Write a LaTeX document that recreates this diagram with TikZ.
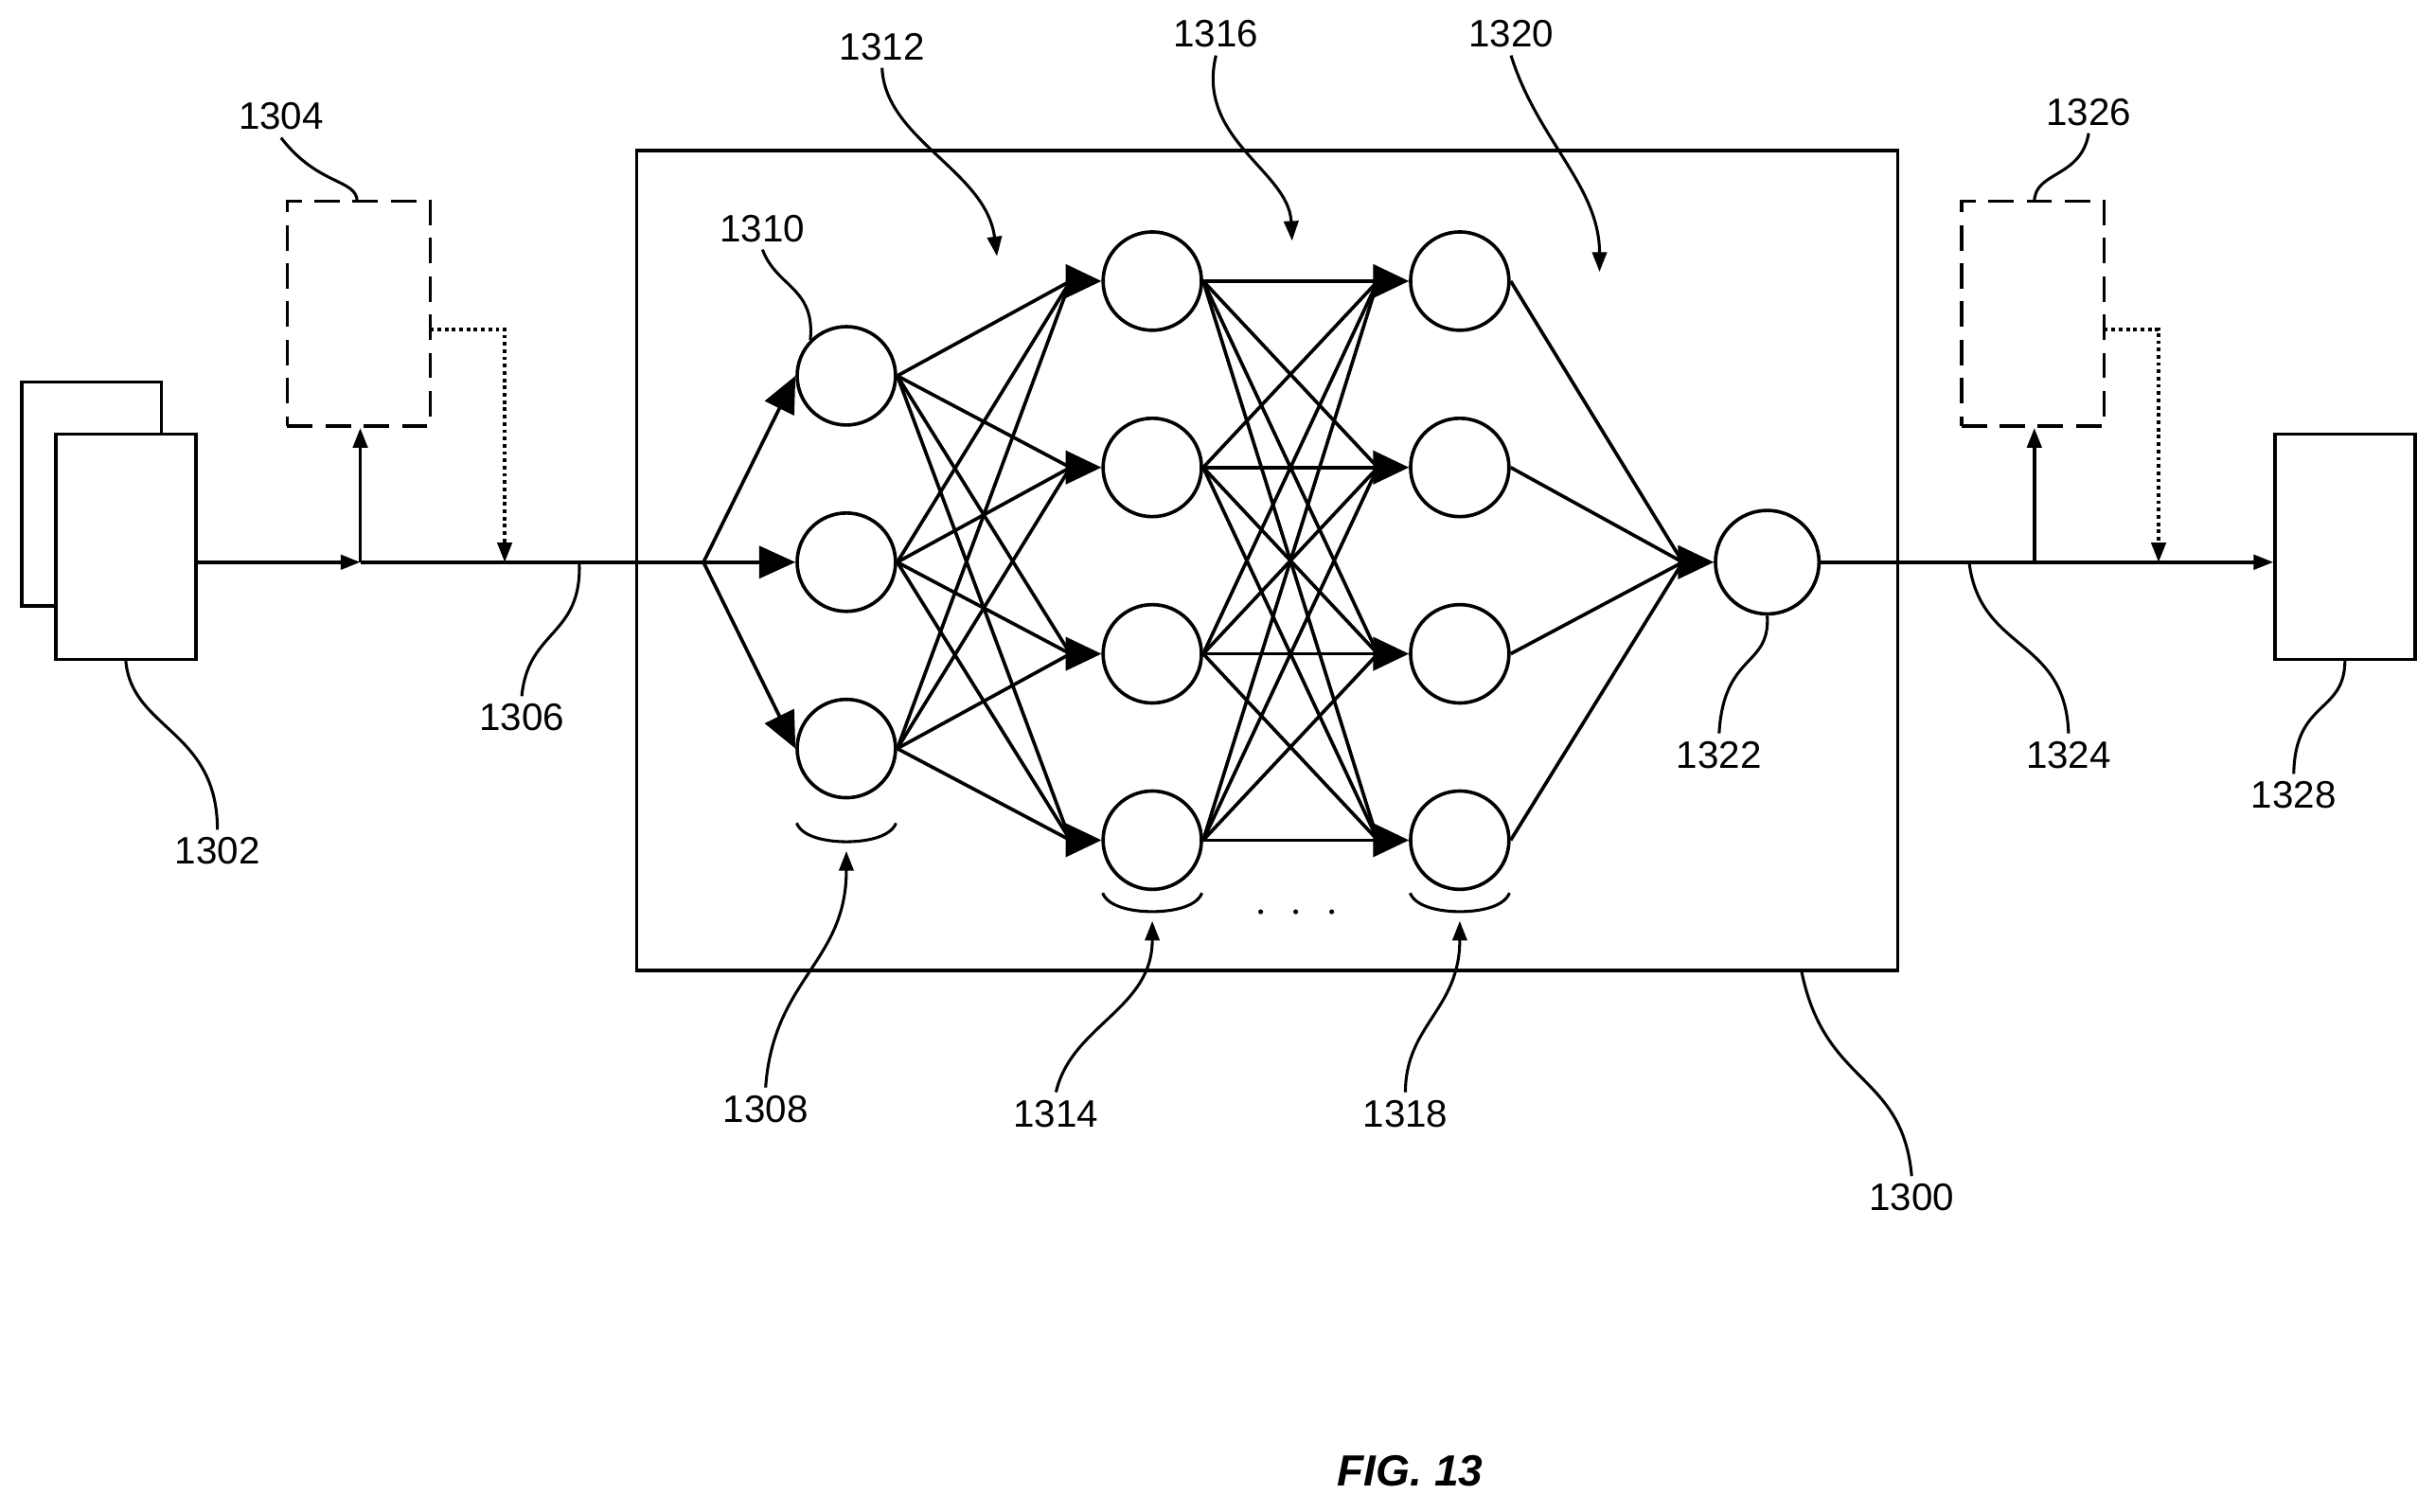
\documentclass[tikz,border=0pt]{standalone}
\usepackage{fontspec}
\setmainfont{Liberation Sans}
\usetikzlibrary{arrows.meta}
\begin{document}
\begin{tikzpicture}[x=0.03cm,y=-0.03cm,line width=1.9pt,
 neu/.style={circle,draw,minimum size=1.9cm,inner sep=0},
 lbl/.style={font=\fontsize{21}{25}\selectfont},
 big/.style={-{Triangle[length=0.7cm,width=0.62cm]}},
 sm/.style={-{Triangle[length=0.38cm,width=0.28cm]}},
 dsh/.style={dash pattern=on 14pt off 7pt},
 dot/.style={dash pattern=on 2pt off 2pt}]
\useasboundingbox (0,0) rectangle (1568,973);
% input docs
\node[draw,fill=white,minimum width=2.7cm,minimum height=4.32cm,inner sep=0] (d0) at (59,318) {};
\node[draw,fill=white,minimum width=2.7cm,minimum height=4.35cm,inner sep=0] (d1) at (81,352) {};
\node[draw,dsh,minimum width=2.76cm,minimum height=4.35cm,inner sep=0] (b1304) at (231,202) {};
\node[draw,dsh,minimum width=2.76cm,minimum height=4.35cm,inner sep=0] (b1326) at (1309,202) {};
\node[draw,minimum width=2.7cm,minimum height=4.35cm,inner sep=0] (d1328) at (1510,352) {};
\node[draw,minimum width=24.36cm,minimum height=15.84cm,inner sep=0] (box) at (816,361) {};
% coordinates on main line
\coordinate (p0) at (126,362);
\coordinate (pa) at (232,362);
\coordinate (pb) at (325,362);
\coordinate (pin) at (410,362);
\coordinate (split) at (453,362);
\draw[sm] (p0) -- (pa);
\draw (pa) -- (pin) -- (split);
\draw[sm] (pa) -- (b1304.south -| pa);
\coordinate (q1) at (277,212);
\coordinate (q2) at (325,212);
\draw[dot,sm] (q1) -- (q2) -- (pb);
% neurons
\foreach \i/\y in {1/242,2/362,3/482} \node[neu] (a\i) at (545,\y) {};
\foreach \i/\y in {1/181,2/301,3/421,4/541} {\node[neu] (b\i) at (742,\y) {}; \node[neu] (c\i) at (940,\y) {};}
\node[neu,minimum size=2cm] (o) at (1138,362) {};
\foreach \i in {1,2,3} \draw[big] (split) -- (a\i.west);
\foreach \i in {1,2,3} \foreach \j in {1,2,3,4} \draw (a\i.east) -- ([xshift=-0.6cm]b\j.west);
\foreach \i in {1,2,3,4} \foreach \j in {1,2,3,4} \draw (b\i.east) -- ([xshift=-0.6cm]c\j.west);
\foreach \i in {1,2,3,4} \draw (c\i.east) -- ([xshift=-0.6cm]o.west);
\foreach \n in {b1,b2,b3,b4,c1,c2,c3,c4,o} \fill (\n.west) -- ++(-23,-11) -- ++(0,22) -- cycle;
% output line
\coordinate (r1) at (1310,362);
\coordinate (r2) at (1390,362);
\draw[sm] (o.east) -- (o.east -| d1328.west);
\draw[sm] (r1) -- (b1326.south -| r1);
\coordinate (s1) at (1355,212);
\coordinate (s2) at (1390,212);
\draw[dot,sm] (s1) -- (s2) -- (r2);
% braces
\foreach \x/\y/\t in {545/538/q8,742/583/q14,940/583/q18}{
 \draw[line width=1.6pt] (\x-32,\y-8) .. controls (\x-28,\y+2) and (\x-10,\y+4) .. (\x,\y+4) .. controls (\x+10,\y+4) and (\x+28,\y+2) .. (\x+32,\y-8);
 \coordinate (\t) at (\x,\y+10);}
\node[lbl] (l1308) at (493,714) {1308};
\node[lbl] (l1314) at (680,717) {1314};
\node[lbl] (l1318) at (905,717) {1318};
\draw[sm,line width=1.6pt] (l1308.north) .. controls (498,630) and (545,620) .. (q8);
\draw[sm,line width=1.6pt] (l1314.north) .. controls (690,660) and (742,650) .. (q14);
\draw[sm,line width=1.6pt] (l1318.north) .. controls (905,660) and (940,650) .. (q18);
\node[font=\fontsize{26}{30}\selectfont] (dots) at (835,588) {$\cdot\;\cdot\;\cdot$};
% labels and leaders
\node[lbl] (l1302) at (140,548) {1302};
\node[lbl] (l1304) at (181,75) {1304};
\node[lbl] (l1306) at (336,462) {1306};
\node[lbl] (l1310) at (491,147) {1310};
\node[lbl] (l1312) at (568,30) {1312};
\node[lbl] (l1316) at (783,22) {1316};
\node[lbl] (l1320) at (973,22) {1320};
\node[lbl] (l1322) at (1107,486) {1322};
\node[lbl] (l1324) at (1332,486) {1324};
\node[lbl] (l1326) at (1345,72) {1326};
\node[lbl] (l1328) at (1477,512) {1328};
\node[lbl] (l1300) at (1231,771) {1300};
\node[font=\fontsize{24}{28}\selectfont\bfseries\itshape] (fig) at (908,947) {FIG. 13};
\begin{scope}[line width=1.6pt]
\draw (d1.south) .. controls (85,470) and (140,470) .. (l1302.north);
\draw (230,130) .. controls (230,115) and (205,120) .. (l1304.south);
\draw (373,362) .. controls (375,410) and (340,405) .. (l1306.north);
\draw (a1.north west) .. controls (525,185) and (500,185) .. (l1310.south);
\draw (o.south) .. controls (1140,430) and (1110,420) .. (l1322.north);
\draw (1268,362) .. controls (1275,420) and (1330,410) .. (l1324.north);
\draw (1310,130) .. controls (1310,110) and (1340,115) .. (l1326.south);
\draw (1510,425) .. controls (1510,460) and (1478,450) .. (l1328.north);
\draw (1160,625) .. controls (1175,700) and (1225,690) .. (l1300.north);
\coordinate (t12) at (642,165);
\coordinate (t16) at (832,155);
\coordinate (t20) at (1030,175);
\draw[sm] (l1312.south) .. controls (570,90) and (635,110) .. (t12);
\draw[sm] (l1316.south) .. controls (770,90) and (830,110) .. (t16);
\draw[sm] (l1320.south) .. controls (990,90) and (1030,120) .. (t20);
\end{scope}
\end{tikzpicture}
\end{document}
